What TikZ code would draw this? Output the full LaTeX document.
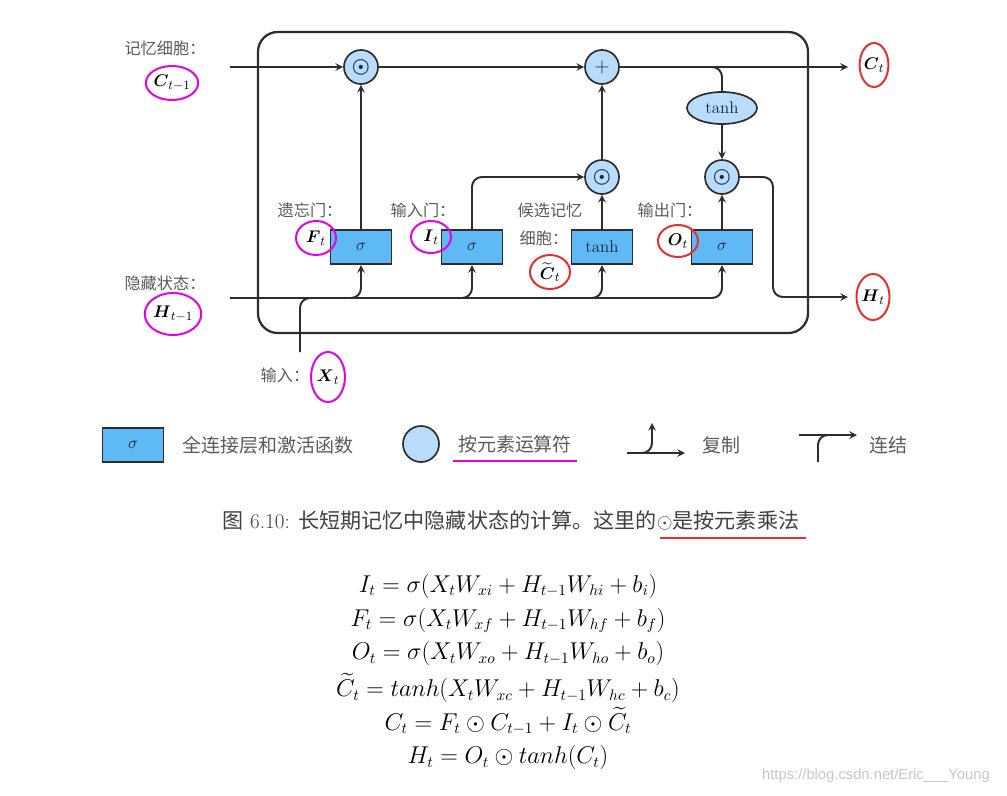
\documentclass[tikz,border=0pt]{standalone}
\usepackage{amssymb, amsmath}
\usepackage{fontspec}
\usepackage{tikz}
\usetikzlibrary{shapes.geometric}
\newfontfamily\cjk{Noto Sans CJK SC}
\newfontfamily\wmfont{Liberation Sans}
\definecolor{gateblue}{RGB}{95, 185, 245}
\definecolor{opblue}{RGB}{185, 220, 252}
\definecolor{linegray}{RGB}{45, 45, 45}
\definecolor{labgray}{RGB}{90, 90, 90}
\definecolor{markmag}{RGB}{230, 0, 230}
\definecolor{markred}{RGB}{235, 45, 45}
\definecolor{inkblue}{RGB}{20, 35, 70}

\tikzset{
  gatebox/.style={rectangle, draw=linegray, fill=gateblue, line width=1.2, minimum width=1.52cm, minimum height=0.86cm, inner sep=0, text=inkblue, font=\fontsize{12}{14}\selectfont},
  opnode/.style={circle, draw=linegray, fill=opblue, line width=1.2, minimum size=0.85cm, inner sep=0, text=inkblue, font=\fontsize{14}{14}\selectfont},
  wire/.style={linegray, line width=1.4, rounded corners=7pt},
  arrow/.style={wire, ->, >=stealth},
  cnlabel/.style={text=labgray, font=\cjk\fontsize{11.5}{14}\selectfont},
  cnlegend/.style={text=labgray, font=\cjk\fontsize{13.5}{16}\selectfont},
  varmark/.style={ellipse, line width=1.4, inner sep=0, font=\fontsize{12.5}{14}\selectfont},
}

\begin{document}
\begin{tikzpicture}[x=0.025cm, y=-0.025cm]

  \useasboundingbox (0, 0) rectangle (1007, 796);

  % the cell
  \draw[linegray, line width=1.6, rounded corners=14pt] (258, 32) rectangle (808, 333);

  \node[opnode] (fmul) at (361, 67) {$\boldsymbol{\odot}$};
  \node[opnode] (cadd) at (602, 67) {$+$};
  \node[opnode] (imul) at (602, 177) {$\boldsymbol{\odot}$};
  \node[opnode] (omul) at (722, 177) {$\boldsymbol{\odot}$};
  \node[ellipse, draw=linegray, fill=opblue, line width=1.2, minimum width=1.75cm, minimum height=0.8cm, text=inkblue, font=\fontsize{12}{14}\selectfont] (ctanh) at (722, 108) {tanh};

  \node[gatebox] (fgate) at (361, 247) {$\sigma$};
  \node[gatebox] (igate) at (472, 247) {$\sigma$};
  \node[gatebox] (cgate) at (602, 247) {tanh};
  \node[gatebox] (ogate) at (722, 247) {$\sigma$};

  \coordinate (cin) at (230, 67);
  \coordinate (cout) at (848, 67);
  \coordinate (hin) at (230, 298);
  \coordinate (hout) at (848, 297);
  \coordinate (xin) at (300, 352);
  \coordinate (xjoin) at (322, 298);
  \coordinate (fsplit) at (346, 298);
  \coordinate (isplit) at (457, 298);
  \coordinate (csplit) at (587, 298);
  \coordinate (tsplit) at (706, 67);
  \coordinate (hbend) at (773, 297);

  \draw[arrow] (cin) -- (fmul);
  \draw[arrow] (fmul) -- (cadd);
  \draw[arrow] (cadd) -- (cout);
  \draw[wire] (tsplit) -| (ctanh);
  \draw[arrow] (ctanh) -- (omul);

  \draw[arrow] (fgate) -- (fmul);
  \draw[arrow] (igate) |- (imul);
  \draw[arrow] (cgate) -- (imul);
  \draw[arrow] (imul) -- (cadd);
  \draw[arrow] (ogate) -- (omul);
  \draw[arrow] (omul) -| (hbend) -- (hout);

  \draw[arrow] (hin) -| (ogate);
  \draw[arrow] (fsplit) -| (fgate);
  \draw[arrow] (isplit) -| (igate);
  \draw[arrow] (csplit) -| (cgate);
  \draw[wire] (xin) |- (xjoin);

  % labels
  \node[cnlabel] (cmemlab) at (165, 48) {记忆细胞：};
  \node[cnlabel] (hidlab) at (165, 283) {隐藏状态：};
  \node[cnlabel] (fgatelab) at (310, 210) {遗忘门：};
  \node[cnlabel] (igatelab) at (423, 210) {输入门：};
  \node[cnlabel] (cgatelab) at (550, 210) {候选记忆};
  \node[cnlabel] (cgatelabb) at (544, 238) {细胞：};
  \node[cnlabel] (ogatelab) at (670, 210) {输出门：};
  \node[cnlabel] (xlab) at (285, 375) {输入：};

  \node[varmark, draw=markmag, minimum width=1.3cm, minimum height=0.85cm] (cprev) at (172, 83) {$\boldsymbol{C}_{t-1}$};
  \node[varmark, draw=markmag, minimum width=1.25cm, minimum height=1.05cm] (hprev) at (173, 314) {$\boldsymbol{H}_{t-1}$};
  \node[varmark, draw=markmag, minimum width=1.0cm, minimum height=0.85cm] (fvar) at (316, 238) {$\boldsymbol{F}_t$};
  \node[varmark, draw=markmag, minimum width=1.0cm, minimum height=0.8cm] (ivar) at (431, 237) {$\boldsymbol{I}_t$};
  \node[varmark, draw=markmag, minimum width=0.85cm, minimum height=1.25cm] (xvar) at (328, 377) {$\boldsymbol{X}_t$};
  \node[varmark, draw=markred, minimum width=1.0cm, minimum height=0.85cm] (ctvar) at (550, 272) {$\widetilde{\boldsymbol{C}}_t$};
  \node[varmark, draw=markred, minimum width=1.0cm, minimum height=0.8cm] (ovar) at (678, 241) {$\boldsymbol{O}_t$};
  \node[varmark, draw=markred, minimum width=0.72cm, minimum height=1.1cm] (cnext) at (874, 65) {$\boldsymbol{C}_t$};
  \node[varmark, draw=markred, minimum width=0.75cm, minimum height=1.15cm] (hnext) at (873, 297) {$\boldsymbol{H}_t$};

  % legend
  \node[gatebox] (lgate) at (133, 445) {$\sigma$};
  \node[cnlegend] (lgatetxt) at (268, 445) {全连接层和激活函数};
  \node[opnode, minimum size=0.9cm] (lop) at (421, 444) {};
  \node[cnlegend] (loptxt) at (515, 444) {按元素运算符};
  \draw[markmag, line width=1.5] ([yshift=-2pt]loptxt.south west) -- ([yshift=-2pt]loptxt.south east);

  \coordinate (cpa) at (627, 453);
  \coordinate (cpb) at (685, 453);
  \coordinate (cpc) at (638, 453);
  \coordinate (cpd) at (652, 423);
  \draw[arrow] (cpa) -- (cpb);
  \draw[arrow] (cpc) -| (cpd);
  \node[cnlegend] (copytxt) at (721, 445) {复制};

  \coordinate (cca) at (818, 462);
  \coordinate (ccb) at (832, 435);
  \coordinate (ccc) at (799, 435);
  \coordinate (ccd) at (857, 435);
  \draw[wire] (cca) |- (ccb);
  \draw[arrow] (ccc) -- (ccd);
  \node[cnlegend] (cattxt) at (888, 445) {连结};

  % caption and equations
  \node[text=black!75, font=\fontsize{15}{17}\selectfont] (caption) at (511, 520)
    {{\cjk 图} 6.10: {\cjk 长短期记忆中隐藏状态的计算。这里的}$\odot${\cjk 是按元素乘法}};
  \draw[markred, line width=1.6] (660, 538) -- (806, 538);

  \node[align=center, font=\fontsize{16}{24}\selectfont] (eqs) at (508, 672) {%
    $I_t = \sigma(X_t W_{xi} + H_{t-1} W_{hi} + b_i)$\\
    $F_t = \sigma(X_t W_{xf} + H_{t-1} W_{hf} + b_f)$\\
    $O_t = \sigma(X_t W_{xo} + H_{t-1} W_{ho} + b_o)$\\[2pt]
    $\widetilde{C}_t = tanh(X_t W_{xc} + H_{t-1} W_{hc} + b_c)$\\
    $C_t = F_t \odot C_{t-1} + I_t \odot \widetilde{C}_t$\\
    $H_t = O_t \odot tanh(C_t)$};

  \node[text=black!22, font=\wmfont\fontsize{10.5}{12}\selectfont] (wmark) at (876, 776) {https://blog.csdn.net/Eric\_\_\_Young};

\end{tikzpicture}
\end{document}
